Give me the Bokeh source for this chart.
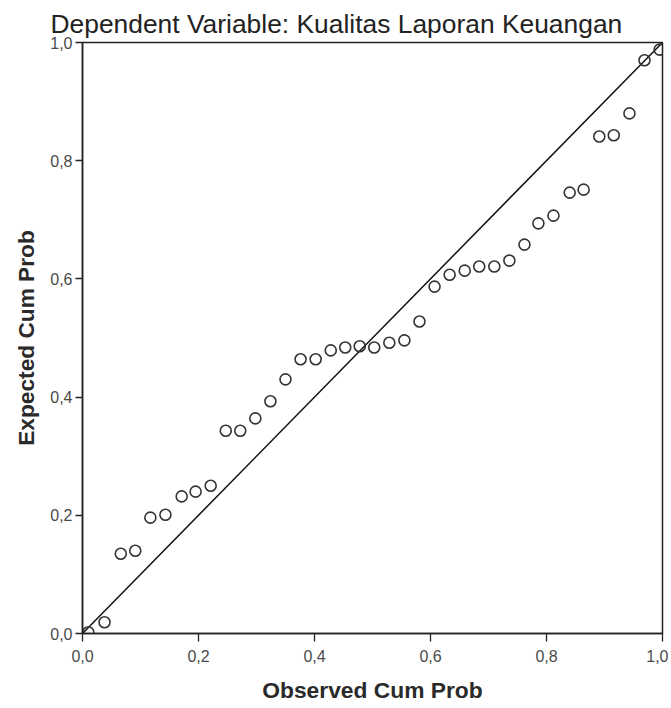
from bokeh.plotting import figure
from bokeh.models import FixedTicker, Range1d
from bokeh.embed import file_html
from bokeh.resources import INLINE

title_text = "Dependent Variable: Kualitas Laporan Keuangan"
x_label = "Observed Cum Prob"
y_label = "Expected Cum Prob"

observed = [0.010, 0.038, 0.066, 0.091, 0.117, 0.143, 0.171, 0.195, 0.221, 0.247,
            0.272, 0.298, 0.324, 0.350, 0.376, 0.402, 0.428, 0.453, 0.478, 0.503,
            0.529, 0.555, 0.581, 0.607, 0.633, 0.659, 0.684, 0.710, 0.736, 0.762,
            0.786, 0.812, 0.840, 0.864, 0.891, 0.916, 0.943, 0.969, 0.995]
expected = [0.002, 0.019, 0.135, 0.140, 0.196, 0.201, 0.232, 0.240, 0.250, 0.343,
            0.343, 0.364, 0.393, 0.430, 0.464, 0.464, 0.479, 0.484, 0.486, 0.484,
            0.492, 0.496, 0.528, 0.587, 0.607, 0.614, 0.621, 0.621, 0.631, 0.658,
            0.694, 0.707, 0.746, 0.751, 0.841, 0.843, 0.880, 0.970, 0.988]
line_x = [0.0, 1.0]
line_y = [0.0, 1.0]
ticks = [0.0, 0.2, 0.4, 0.6, 0.8, 1.0]
tick_labels = ["0,0", "0,2", "0,4", "0,6", "0,8", "1,0"]

FONT = "Liberation Sans"

p = figure(width=668, height=708, output_backend="svg", toolbar_location=None,
           x_range=Range1d(0, 1), y_range=Range1d(0, 1),
           min_border_left=82, min_border_right=6, min_border_top=42, min_border_bottom=75)

p.title.text = title_text
p.title.text_font = FONT
p.title.text_font_size = "26.4px"
p.title.text_font_style = "normal"
p.title.text_color = "#222222"
p.title.offset = -32
p.title.standoff = 8

p.line(line_x, line_y, line_color="#111111", line_width=1.5)
p.scatter(observed, expected, marker="circle", size=11, fill_color=None,
          line_color="#333333", line_width=1.6)

p.xgrid.visible = False
p.ygrid.visible = False
p.outline_line_color = "#222222"
p.outline_line_width = 1.5
p.background_fill_color = "white"
p.border_fill_color = "white"

for ax in (p.xaxis[0], p.yaxis[0]):
    ax.ticker = FixedTicker(ticks=ticks)
    ax.major_label_overrides = {t: l for t, l in zip(ticks, tick_labels)}
    ax.minor_tick_line_color = None
    ax.major_tick_in = 0
    ax.axis_line_color = "#222222"
    ax.axis_line_width = 1.5
    ax.major_tick_line_color = "#222222"
    ax.major_tick_line_width = 1.3
    ax.major_label_text_font = FONT
    ax.major_label_text_font_size = "16px"
    ax.major_label_text_color = "#4a4a4a"
    ax.axis_label_text_font = FONT
    ax.axis_label_text_font_style = "bold"
    ax.axis_label_text_color = "#2a2a2a"

p.xaxis.axis_label = x_label
p.xaxis.major_tick_out = 8
p.xaxis.major_label_standoff = 8
p.xaxis.axis_label_standoff = 12
p.xaxis.axis_label_text_font_size = "22.8px"

p.yaxis.axis_label = y_label
p.yaxis.major_tick_out = 7
p.yaxis.major_label_standoff = 3
p.yaxis.axis_label_standoff = 8
p.yaxis.axis_label_text_font_size = "22.7px"

open("out.html", "w").write(file_html(p, INLINE))
